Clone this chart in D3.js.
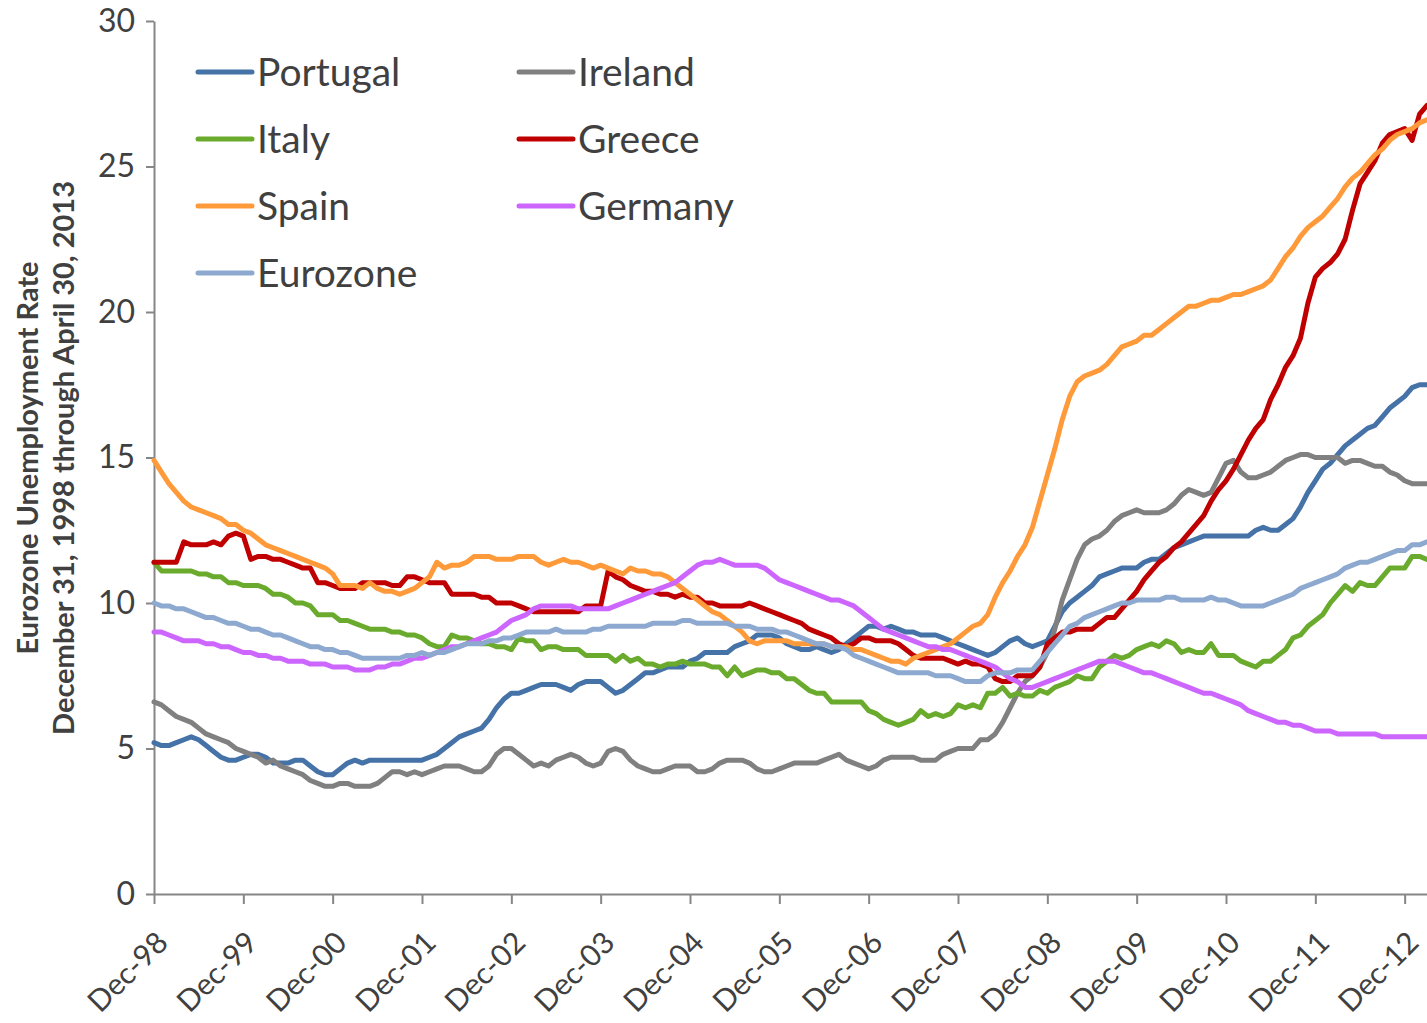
<!DOCTYPE html>
<html>
<head>
<meta charset="utf-8">
<script src="https://cdn.jsdelivr.net/npm/d3@7"></script>
<style>
  html, body { margin: 0; padding: 0; background: #ffffff; }
  svg { display: block; }
</style>
</head>
<body>
<svg id="chart" width="1427" height="1023"></svg>
<script>
// Monthly unemployment rates, Dec-98 (index 0) through Mar-13 (index 171)
const tickLabels = ["Dec-98","Dec-99","Dec-00","Dec-01","Dec-02","Dec-03","Dec-04","Dec-05","Dec-06","Dec-07","Dec-08","Dec-09","Dec-10","Dec-11","Dec-12"];
const yTicks = [0, 5, 10, 15, 20, 25, 30];
const seriesNames = ["Portugal", "Ireland", "Italy", "Greece", "Spain", "Germany", "Eurozone"];
const seriesColors = ["#4572A7", "#808080", "#6AAB2E", "#C00000", "#FF9A3A", "#CC66FF", "#8EA9D0"];

const portugal = [5.2,5.1,5.1,5.2,5.3,5.4,5.3,5.1,4.9,4.7,4.6,4.6,
4.7,4.8,4.8,4.7,4.5,4.5,4.5,4.6,4.6,4.4,4.2,4.1,
4.1,4.3,4.5,4.6,4.5,4.6,4.6,4.6,4.6,4.6,4.6,4.6,
4.6,4.7,4.8,5.0,5.2,5.4,5.5,5.6,5.7,6.0,6.4,6.7,
6.9,6.9,7.0,7.1,7.2,7.2,7.2,7.1,7.0,7.2,7.3,7.3,
7.3,7.1,6.9,7.0,7.2,7.4,7.6,7.6,7.7,7.8,7.8,7.8,
8.0,8.1,8.3,8.3,8.3,8.3,8.5,8.6,8.7,8.9,8.9,8.9,
8.8,8.6,8.5,8.4,8.4,8.5,8.4,8.3,8.4,8.6,8.8,9.0,
9.2,9.2,9.1,9.2,9.1,9.0,9.0,8.9,8.9,8.9,8.8,8.7,
8.6,8.5,8.4,8.3,8.2,8.3,8.5,8.7,8.8,8.6,8.5,8.6,
8.7,9.2,9.7,10.0,10.2,10.4,10.6,10.9,11.0,11.1,11.2,11.2,
11.2,11.4,11.5,11.5,11.7,11.9,12.0,12.1,12.2,12.3,12.3,12.3,
12.3,12.3,12.3,12.3,12.5,12.6,12.5,12.5,12.7,12.9,13.3,13.8,
14.2,14.6,14.8,15.1,15.4,15.6,15.8,16.0,16.1,16.4,16.7,16.9,
17.1,17.4,17.5,17.5];

const ireland = [6.6,6.5,6.3,6.1,6.0,5.9,5.7,5.5,5.4,5.3,5.2,5.0,
4.9,4.8,4.7,4.5,4.6,4.4,4.3,4.2,4.1,3.9,3.8,3.7,
3.7,3.8,3.8,3.7,3.7,3.7,3.8,4.0,4.2,4.2,4.1,4.2,
4.1,4.2,4.3,4.4,4.4,4.4,4.3,4.2,4.2,4.4,4.8,5.0,
5.0,4.8,4.6,4.4,4.5,4.4,4.6,4.7,4.8,4.7,4.5,4.4,
4.5,4.9,5.0,4.9,4.6,4.4,4.3,4.2,4.2,4.3,4.4,4.4,
4.4,4.2,4.2,4.3,4.5,4.6,4.6,4.6,4.5,4.3,4.2,4.2,
4.3,4.4,4.5,4.5,4.5,4.5,4.6,4.7,4.8,4.6,4.5,4.4,
4.3,4.4,4.6,4.7,4.7,4.7,4.7,4.6,4.6,4.6,4.8,4.9,
5.0,5.0,5.0,5.3,5.3,5.5,5.9,6.4,6.9,7.3,7.5,7.8,
8.3,9.1,10.1,10.8,11.5,12.0,12.2,12.3,12.5,12.8,13.0,13.1,
13.2,13.1,13.1,13.1,13.2,13.4,13.7,13.9,13.8,13.7,13.8,14.3,
14.8,14.9,14.5,14.3,14.3,14.4,14.5,14.7,14.9,15.0,15.1,15.1,
15.0,15.0,15.0,15.0,14.8,14.9,14.9,14.8,14.7,14.7,14.5,14.4,
14.2,14.1,14.1,14.1];

const italy = [11.4,11.1,11.1,11.1,11.1,11.1,11.0,11.0,10.9,10.9,10.7,10.7,
10.6,10.6,10.6,10.5,10.3,10.3,10.2,10.0,10.0,9.9,9.6,9.6,
9.6,9.4,9.4,9.3,9.2,9.1,9.1,9.1,9.0,9.0,8.9,8.9,
8.8,8.6,8.5,8.5,8.9,8.8,8.8,8.7,8.6,8.6,8.5,8.5,
8.4,8.8,8.7,8.7,8.4,8.5,8.5,8.4,8.4,8.4,8.2,8.2,
8.2,8.2,8.0,8.2,8.0,8.1,7.9,7.9,7.8,7.9,7.9,8.0,
7.9,7.9,7.9,7.8,7.8,7.5,7.8,7.5,7.6,7.7,7.7,7.6,
7.6,7.4,7.4,7.2,7.0,6.9,6.9,6.6,6.6,6.6,6.6,6.6,
6.3,6.2,6.0,5.9,5.8,5.9,6.0,6.3,6.1,6.2,6.1,6.2,
6.5,6.4,6.5,6.4,6.9,6.9,7.1,6.8,6.9,6.8,6.8,7.0,
6.9,7.1,7.2,7.3,7.5,7.4,7.4,7.8,8.0,8.2,8.1,8.2,
8.4,8.5,8.6,8.5,8.7,8.6,8.3,8.4,8.3,8.3,8.6,8.2,
8.2,8.2,8.0,7.9,7.8,8.0,8.0,8.2,8.4,8.8,8.9,9.2,
9.4,9.6,10.0,10.3,10.6,10.4,10.7,10.6,10.6,10.9,11.2,11.2,
11.2,11.6,11.6,11.5];

const greece = [11.4,11.4,11.4,11.4,12.1,12.0,12.0,12.0,12.1,12.0,12.3,12.4,
12.3,11.5,11.6,11.6,11.5,11.5,11.4,11.3,11.2,11.2,10.7,10.7,
10.6,10.5,10.5,10.5,10.7,10.7,10.7,10.7,10.6,10.6,10.9,10.9,
10.8,10.7,10.7,10.7,10.3,10.3,10.3,10.3,10.2,10.2,10.0,10.0,
10.0,9.9,9.8,9.7,9.7,9.7,9.7,9.7,9.7,9.7,9.9,9.9,
9.9,11.1,10.9,10.8,10.6,10.5,10.4,10.4,10.3,10.3,10.2,10.3,
10.2,10.2,10.0,10.0,9.9,9.9,9.9,9.9,10.0,9.9,9.8,9.7,
9.6,9.5,9.4,9.3,9.1,9.0,8.9,8.8,8.6,8.5,8.6,8.8,
8.8,8.7,8.7,8.7,8.6,8.4,8.2,8.1,8.1,8.1,8.1,8.0,
7.9,8.0,7.9,7.9,7.8,7.4,7.3,7.3,7.5,7.5,7.5,7.8,
8.6,8.8,9.0,9.0,9.1,9.1,9.1,9.3,9.5,9.5,9.8,10.1,
10.4,10.8,11.1,11.4,11.6,11.9,12.1,12.4,12.7,13.0,13.5,13.9,
14.2,14.6,15.1,15.6,16.0,16.3,17.0,17.5,18.1,18.5,19.1,20.3,
21.2,21.5,21.7,22.0,22.5,23.5,24.4,24.8,25.2,25.8,26.1,26.2,
26.3,25.9,26.8,27.1];

const spain = [14.9,14.5,14.1,13.8,13.5,13.3,13.2,13.1,13.0,12.9,12.7,12.7,
12.5,12.4,12.2,12.0,11.9,11.8,11.7,11.6,11.5,11.4,11.3,11.2,
11.0,10.6,10.6,10.6,10.5,10.7,10.5,10.4,10.4,10.3,10.4,10.5,
10.7,10.9,11.4,11.2,11.3,11.3,11.4,11.6,11.6,11.6,11.5,11.5,
11.5,11.6,11.6,11.6,11.4,11.3,11.4,11.5,11.4,11.4,11.3,11.2,
11.3,11.2,11.1,11.0,11.2,11.1,11.1,11.0,11.0,10.9,10.7,10.5,
10.3,10.1,9.9,9.7,9.6,9.4,9.2,9.0,8.7,8.6,8.7,8.7,
8.7,8.7,8.6,8.6,8.6,8.6,8.6,8.5,8.5,8.5,8.4,8.4,
8.3,8.2,8.1,8.0,8.0,7.9,8.1,8.2,8.3,8.4,8.5,8.6,
8.8,9.0,9.2,9.3,9.6,10.2,10.7,11.1,11.6,12.0,12.6,13.5,
14.4,15.3,16.3,17.1,17.6,17.8,17.9,18.0,18.2,18.5,18.8,18.9,
19.0,19.2,19.2,19.4,19.6,19.8,20.0,20.2,20.2,20.3,20.4,20.4,
20.5,20.6,20.6,20.7,20.8,20.9,21.1,21.5,21.9,22.2,22.6,22.9,
23.1,23.3,23.6,23.9,24.3,24.6,24.8,25.1,25.4,25.6,25.9,26.1,
26.2,26.3,26.5,26.6];

const germany = [9.0,9.0,8.9,8.8,8.7,8.7,8.7,8.6,8.6,8.5,8.5,8.4,
8.3,8.3,8.2,8.2,8.1,8.1,8.0,8.0,8.0,7.9,7.9,7.9,
7.8,7.8,7.8,7.7,7.7,7.7,7.8,7.8,7.9,7.9,8.0,8.1,
8.1,8.2,8.3,8.4,8.5,8.5,8.6,8.7,8.8,8.9,9.0,9.2,
9.4,9.5,9.6,9.8,9.9,9.9,9.9,9.9,9.9,9.8,9.8,9.8,
9.8,9.8,9.9,10.0,10.1,10.2,10.3,10.4,10.5,10.6,10.7,10.9,
11.1,11.3,11.4,11.4,11.5,11.4,11.3,11.3,11.3,11.3,11.2,11.0,
10.8,10.7,10.6,10.5,10.4,10.3,10.2,10.1,10.1,10.0,9.9,9.7,
9.5,9.3,9.1,9.0,8.9,8.8,8.7,8.6,8.5,8.5,8.4,8.4,
8.3,8.2,8.1,8.0,7.9,7.8,7.6,7.4,7.3,7.1,7.1,7.2,
7.3,7.4,7.5,7.6,7.7,7.8,7.9,8.0,8.0,8.0,7.9,7.8,
7.7,7.6,7.6,7.5,7.4,7.3,7.2,7.1,7.0,6.9,6.9,6.8,
6.7,6.6,6.5,6.3,6.2,6.1,6.0,5.9,5.9,5.8,5.8,5.7,
5.6,5.6,5.6,5.5,5.5,5.5,5.5,5.5,5.5,5.4,5.4,5.4,
5.4,5.4,5.4,5.4];

const eurozone = [10.0,9.9,9.9,9.8,9.8,9.7,9.6,9.5,9.5,9.4,9.3,9.3,
9.2,9.1,9.1,9.0,8.9,8.9,8.8,8.7,8.6,8.5,8.5,8.4,
8.4,8.3,8.3,8.2,8.1,8.1,8.1,8.1,8.1,8.1,8.2,8.2,
8.3,8.2,8.3,8.3,8.4,8.5,8.6,8.6,8.6,8.7,8.7,8.8,
8.8,8.9,9.0,9.0,9.0,9.0,9.1,9.0,9.0,9.0,9.0,9.1,
9.1,9.2,9.2,9.2,9.2,9.2,9.2,9.3,9.3,9.3,9.3,9.4,
9.4,9.3,9.3,9.3,9.3,9.3,9.2,9.2,9.2,9.1,9.1,9.1,
9.0,9.0,8.9,8.8,8.7,8.6,8.6,8.5,8.5,8.4,8.2,8.1,
8.0,7.9,7.8,7.7,7.6,7.6,7.6,7.6,7.6,7.5,7.5,7.5,
7.4,7.3,7.3,7.3,7.5,7.6,7.6,7.6,7.7,7.7,7.7,8.0,
8.3,8.6,8.9,9.2,9.3,9.5,9.6,9.7,9.8,9.9,10.0,10.0,
10.1,10.1,10.1,10.1,10.2,10.2,10.1,10.1,10.1,10.1,10.2,10.1,
10.1,10.0,9.9,9.9,9.9,9.9,10.0,10.1,10.2,10.3,10.5,10.6,
10.7,10.8,10.9,11.0,11.2,11.3,11.4,11.4,11.5,11.6,11.7,11.8,
11.8,12.0,12.0,12.1];

const seriesValues = [portugal, ireland, italy, greece, spain, germany, eurozone];

// ---------- drawing ----------
const svg = d3.select("#chart");
svg.append("rect").attr("width", 1427).attr("height", 1023).attr("fill", "#ffffff");

const nMonths = portugal.length;
const x = d3.scaleLinear().domain([0, nMonths - 1]).range([154, 1427]);
const y = d3.scaleLinear().domain([0, 30]).range([894, 21]);

const axisColor = "#868686";
const textColor = "#404040";
const font = "Lato, 'Open Sans', 'Liberation Sans', sans-serif";

// Y axis
const yAxis = svg.append("g").attr("transform", "translate(154,0)")
  .call(d3.axisLeft(y).tickValues(yTicks).tickSize(8).tickSizeOuter(0).tickPadding(11));
yAxis.select(".domain").attr("stroke", axisColor).attr("stroke-width", 2);
yAxis.selectAll(".tick line").attr("stroke", axisColor).attr("stroke-width", 2);
yAxis.selectAll(".tick text").attr("fill", textColor).style("font-family", font).style("font-size", "32px");

// X axis
const xTickVals = tickLabels.map((d, i) => i * 12);
const xAxis = svg.append("g").attr("transform", "translate(0,894)")
  .call(d3.axisBottom(x).tickValues(xTickVals).tickSize(10).tickSizeOuter(0)
    .tickFormat((d, i) => tickLabels[i]));
xAxis.select(".domain").attr("stroke", axisColor).attr("stroke-width", 2);
xAxis.selectAll(".tick line").attr("stroke", axisColor).attr("stroke-width", 2);
xAxis.selectAll(".tick text")
  .attr("fill", textColor).style("font-family", font).style("font-size", "30px")
  .attr("text-anchor", "end")
  .attr("dy", "0.35em")
  .attr("transform", "translate(8,43) rotate(-45)")
  .attr("y", 0).attr("x", 0);

// Lines
const line = d3.line().x((d, i) => x(i)).y(d => y(d)).curve(d3.curveLinear);
seriesValues.forEach((vals, k) => {
  svg.append("path")
    .datum(vals)
    .attr("fill", "none")
    .attr("stroke", seriesColors[k])
    .attr("stroke-width", 5)
    .attr("stroke-linejoin", "round")
    .attr("stroke-linecap", "round")
    .attr("d", line);
});

// Legend
const legendCols = [198, 519];
const legendRows = [72, 139, 206, 273];
seriesNames.forEach((name, k) => {
  const col = k % 2, row = Math.floor(k / 2);
  const lx = legendCols[col], ly = legendRows[row];
  const g = svg.append("g");
  g.append("line").attr("x1", lx).attr("x2", lx + 54).attr("y1", ly).attr("y2", ly)
    .attr("stroke", seriesColors[k]).attr("stroke-width", 5).attr("stroke-linecap", "round");
  g.append("text").attr("x", lx + 59).attr("y", ly).attr("dy", "0.35em")
    .attr("fill", textColor).style("font-family", font).style("font-size", "39px")
    .text(name);
});

// Axis title
const titleLines = ["Eurozone Unemployment Rate", "December 31, 1998 through April 30, 2013"];
titleLines.forEach((t, i) => {
  svg.append("text")
    .attr("transform", `translate(${28 + i * 36},458) rotate(-90)`)
    .attr("text-anchor", "middle").attr("dy", "0.35em")
    .attr("fill", textColor).style("font-family", font).style("font-size", "29px").style("font-weight", "bold")
    .text(t);
});
</script>
</body>
</html>
